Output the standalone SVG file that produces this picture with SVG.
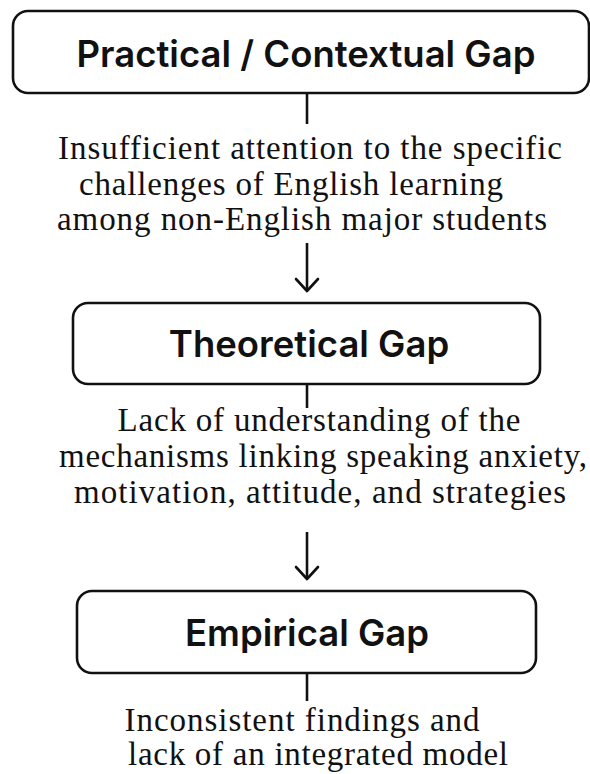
<svg xmlns="http://www.w3.org/2000/svg" width="590" height="774" viewBox="0 0 590 774">
  <style>
    .box { fill: #ffffff; stroke: #111111; stroke-width: 2.6; }
    .title { font-family: Inter, "Liberation Sans", sans-serif; font-weight: 600; font-size: 36.5px; fill: #111111; text-anchor: middle; }
    .note { font-family: "Liberation Serif", "DejaVu Serif", serif; font-size: 33px; fill: #111111; text-anchor: middle; }
    .link { stroke: #111111; stroke-width: 2.6; fill: none; }
    .head { stroke: #111111; stroke-width: 2.6; fill: none; stroke-linecap: round; stroke-linejoin: round; }
  </style>
  <rect width="590" height="774" fill="#ffffff"/>

  <!-- connectors -->
  <g id="connectors">
    <line class="link" x1="307" y1="93" x2="307" y2="124"/>
    <line class="link" x1="307" y1="243" x2="307" y2="290"/>
    <polyline class="head" points="296,279 307,291 318,279"/>
    <line class="link" x1="307" y1="384" x2="307" y2="408"/>
    <line class="link" x1="307" y1="532" x2="307" y2="578"/>
    <polyline class="head" points="296,567 307,579 318,567"/>
    <line class="link" x1="307" y1="673" x2="307" y2="701"/>
  </g>

  <g id="practical-gap">
    <rect class="box" x="13" y="11" width="576" height="82" rx="15"/>
    <text class="title" x="306" y="67">Practical / Contextual Gap</text>
    <text class="note" x="310" y="159" textLength="504" lengthAdjust="spacing">Insufficient attention to the specific</text>
    <text class="note" x="291" y="195" textLength="424" lengthAdjust="spacing">challenges of English learning</text>
    <text class="note" x="302" y="230" textLength="490" lengthAdjust="spacing">among non-English major students</text>
  </g>

  <g id="theoretical-gap">
    <rect class="box" x="73" y="303" width="467" height="81" rx="15"/>
    <text class="title" x="309" y="357">Theoretical Gap</text>
    <text class="note" x="319" y="431" textLength="403" lengthAdjust="spacing">Lack of understanding of the</text>
    <text class="note" x="323" y="467" textLength="528" lengthAdjust="spacing">mechanisms linking speaking anxiety,</text>
    <text class="note" x="320" y="503" textLength="492" lengthAdjust="spacing">motivation, attitude, and strategies</text>
  </g>

  <g id="empirical-gap">
    <rect class="box" x="77" y="591" width="459" height="82" rx="15"/>
    <text class="title" x="307" y="646">Empirical Gap</text>
    <text class="note" x="302" y="731" textLength="355" lengthAdjust="spacing">Inconsistent findings and</text>
    <text class="note" x="318" y="765" textLength="380" lengthAdjust="spacing">lack of an integrated model</text>
  </g>
</svg>
